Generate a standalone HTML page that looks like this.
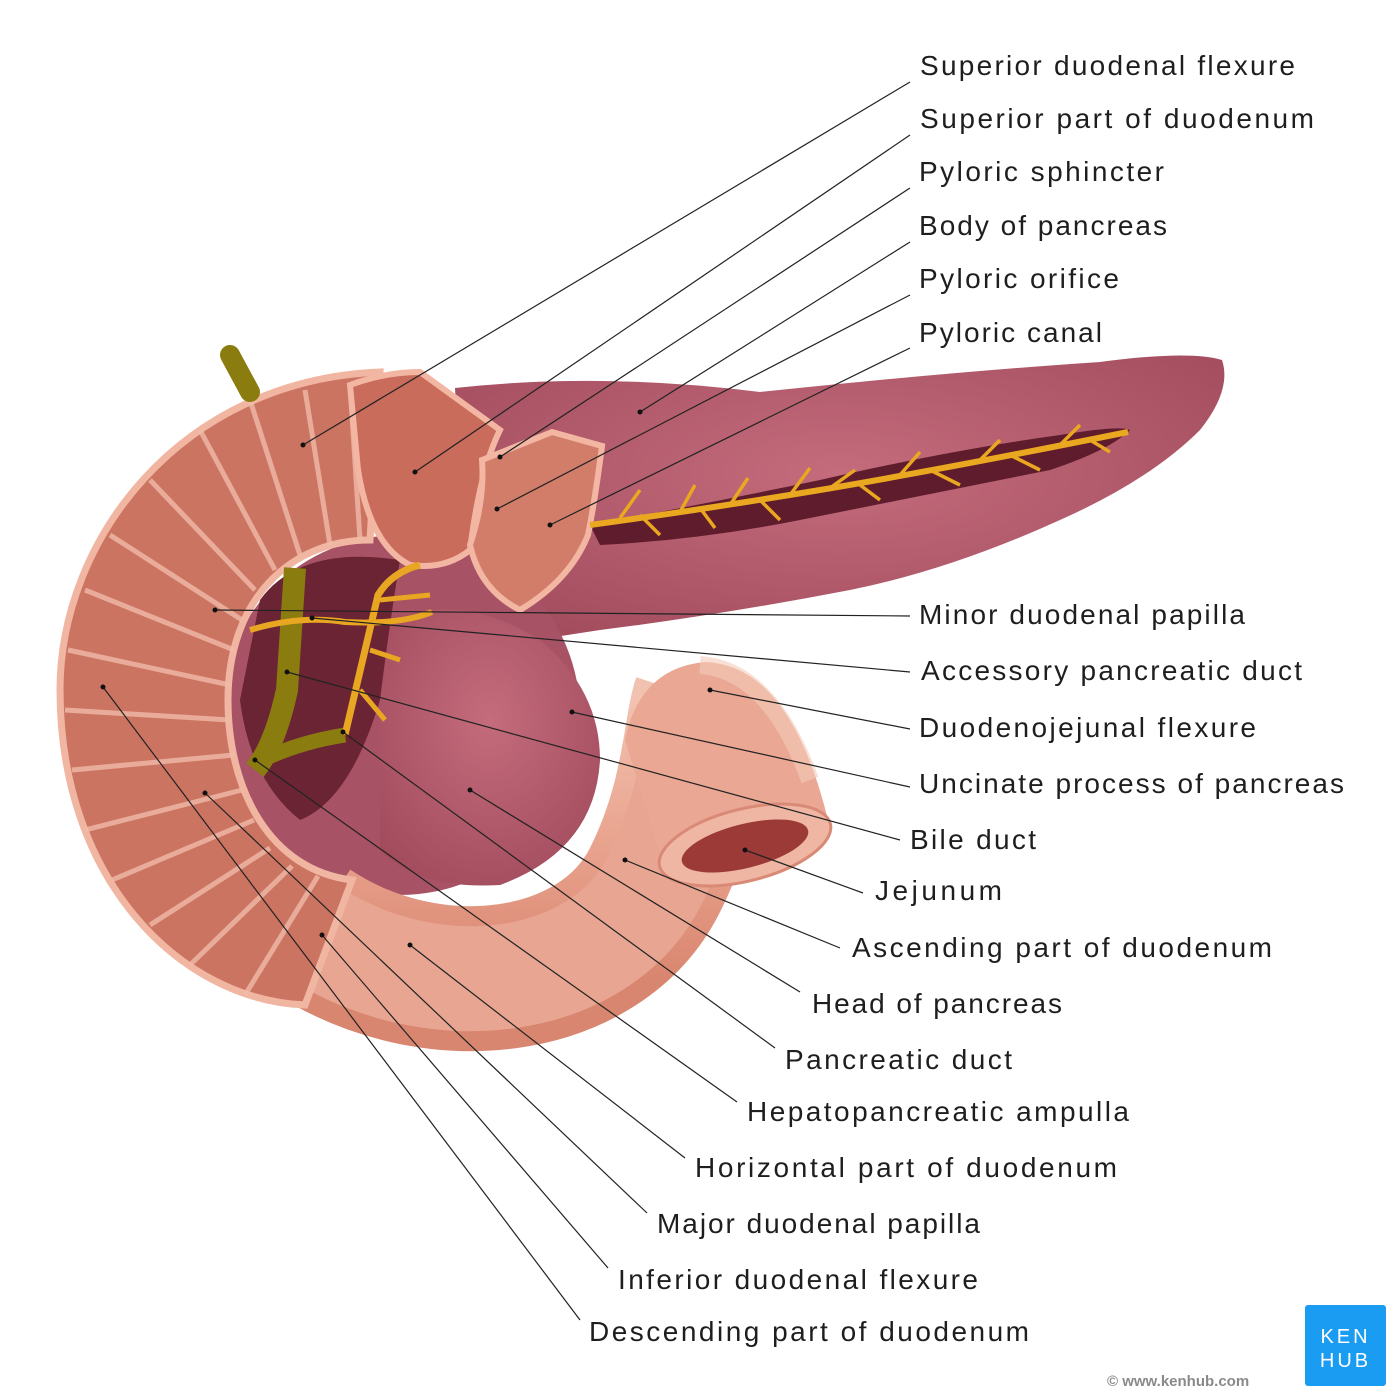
<!DOCTYPE html>
<html><head><meta charset="utf-8"><style>
html,body{margin:0;padding:0;background:#fff;}
svg{display:block;}
text.l{font-family:"Liberation Sans","DejaVu Sans",sans-serif;font-size:28px;fill:#1e1e1e;}
</style></head><body>
<svg width="1400" height="1400" viewBox="0 0 1400 1400" xmlns="http://www.w3.org/2000/svg">
<rect width="1400" height="1400" fill="#fff"/>
<defs>
<linearGradient id="tube" x1="0" y1="0" x2="0" y2="1"><stop offset="0" stop-color="#f2c2b0"/><stop offset="0.5" stop-color="#e9a48f"/><stop offset="1" stop-color="#d98670"/></linearGradient>
<radialGradient id="panc" cx="0.5" cy="0.4" r="0.7"><stop offset="0" stop-color="#c46c7c"/><stop offset="1" stop-color="#a04a5c"/></radialGradient>
</defs>
<!-- pancreas body -->
<path d="M455 388 Q600 372 760 392 Q950 372 1100 362 Q1190 350 1222 360 Q1232 390 1200 430 Q1150 480 1060 520 Q950 570 850 590 Q720 615 600 630 L470 650 Z" fill="url(#panc)"/>
<path d="M590 525 Q700 505 820 480 Q950 450 1060 435 Q1120 425 1130 430 Q1110 450 1050 470 Q900 500 800 520 Q700 540 600 545 Z" fill="#5e1c2c"/>
<!-- inner fill -->
<ellipse cx="400" cy="715" rx="180" ry="180" fill="#a85266"/>
<!-- head -->
<path d="M380 620 Q460 590 540 640 Q600 690 600 760 Q595 850 500 885 Q420 890 380 850 Z" fill="url(#panc)"/>
<!-- dark lumen behind -->
<path d="M260 600 Q300 545 400 560 Q390 620 380 700 Q350 800 300 820 Q250 780 240 700 Z" fill="#6a2434"/>
<!-- horizontal / ascending tube -->
<path d="M310 930 C430 1010 600 990 655 880 C695 800 695 730 705 700" fill="none" stroke="url(#tube)" stroke-width="145"/>
<path d="M310 930 C430 1010 600 990 655 880 C695 800 695 730 705 700" fill="none" stroke="#e8a692" stroke-width="105"/>
<path d="M625 740 Q640 668 705 662 Q790 665 828 820 L665 870 Z" fill="#eaa793"/>
<path d="M700 665 Q770 670 810 780" fill="none" stroke="#f4cbbb" stroke-width="18" opacity="0.6"/>
<ellipse cx="745" cy="845" rx="88" ry="36" transform="rotate(-14 745 845)" fill="#efb6a3" stroke="#d98a76" stroke-width="3"/>
<ellipse cx="745" cy="846" rx="65" ry="22" transform="rotate(-14 745 846)" fill="#9c3a38"/>
<!-- C wall -->
<path d="M380 372 C180 380 60 540 60 690 C60 880 180 1000 305 1005 L352 880 C270 870 228 790 228 700 C228 600 290 540 370 540 Z" fill="#cc7462" stroke="#f1b6a2" stroke-width="7"/>
<g stroke="#f2bba8" stroke-width="5" opacity="0.8" fill="none">
<path d="M330 545 L305 390"/><path d="M300 555 L250 400"/><path d="M275 570 L200 430"/><path d="M255 590 L150 480"/>
<path d="M242 620 L110 535"/><path d="M234 650 L85 590"/><path d="M230 685 L68 650"/><path d="M230 720 L65 710"/>
<path d="M234 755 L72 770"/><path d="M242 790 L85 830"/><path d="M254 820 L112 880"/><path d="M270 848 L150 925"/>
<path d="M292 866 L190 965"/><path d="M318 876 L245 995"/><path d="M360 540 L350 385"/>
</g>
<!-- superior part -->
<path d="M350 385 Q385 372 420 372 L500 430 Q480 470 470 550 Q445 570 410 565 Q370 545 358 470 Z" fill="#c96c5b" stroke="#f2b6a3" stroke-width="6"/>
<path d="M482 460 L552 432 L602 446 Q595 500 588 535 Q570 580 520 610 Q480 590 470 545 Q485 500 482 460 Z" fill="#d27d69" stroke="#f2b6a3" stroke-width="6"/>
<!-- ducts -->
<path d="M230 355 L250 392" stroke="#8b7c10" stroke-width="20" stroke-linecap="round"/>
<path d="M295 568 L287 690 Q275 745 255 770" fill="none" stroke="#8b7c10" stroke-width="22"/>
<path d="M262 760 Q300 742 345 735" fill="none" stroke="#8b7c10" stroke-width="15"/>
<path d="M345 735 Q365 650 378 595 Q392 572 420 565" fill="none" stroke="#e8a622" stroke-width="7"/>
<path d="M250 630 Q300 615 345 622 Q400 625 432 612" fill="none" stroke="#e8a622" stroke-width="6"/>
<path d="M380 600 L430 595 M370 650 L400 660 M360 690 L385 720" stroke="#e8a622" stroke-width="5"/>
<path d="M590 525 Q700 510 820 490 Q950 468 1128 432" fill="none" stroke="#eaa720" stroke-width="6"/>
<g stroke="#eaa720" stroke-width="3.5" fill="none">
<path d="M620 518 L640 490 M640 515 L660 535 M680 512 L695 485 M700 508 L715 528 M730 505 L748 478 M760 500 L780 520 M790 495 L810 468 M830 488 L855 470 M860 485 L880 500 M900 475 L920 452 M930 470 L960 485 M980 460 L1000 440 M1010 455 L1040 470 M1060 445 L1080 425 M1090 440 L1110 452"/>
</g>
<!-- leader lines -->
<g stroke="#222" stroke-width="1.2" fill="none">
<line x1="303" y1="445" x2="910" y2="82"/>
<line x1="415" y1="472" x2="910" y2="135"/>
<line x1="500" y1="457" x2="910" y2="188"/>
<line x1="640" y1="412" x2="910" y2="242"/>
<line x1="497" y1="509" x2="910" y2="295"/>
<line x1="550" y1="525" x2="910" y2="348"/>
<line x1="215" y1="610" x2="910" y2="616"/>
<line x1="312" y1="618" x2="910" y2="672"/>
<line x1="710" y1="690" x2="910" y2="729"/>
<line x1="572" y1="712" x2="910" y2="787"/>
<line x1="287" y1="672" x2="900" y2="840"/>
<line x1="745" y1="850" x2="863" y2="893"/>
<line x1="625" y1="860" x2="840" y2="948"/>
<line x1="470" y1="790" x2="800" y2="992"/>
<line x1="343" y1="732" x2="775" y2="1048"/>
<line x1="255" y1="760" x2="737" y2="1102"/>
<line x1="410" y1="945" x2="685" y2="1158"/>
<line x1="205" y1="793" x2="647" y2="1213"/>
<line x1="322" y1="935" x2="608" y2="1268"/>
<line x1="103" y1="687" x2="580" y2="1320"/>
</g>
<g fill="#111">
<circle cx="303" cy="445" r="2.5"/><circle cx="415" cy="472" r="2.5"/><circle cx="500" cy="457" r="2.5"/><circle cx="640" cy="412" r="2.5"/><circle cx="497" cy="509" r="2.5"/><circle cx="550" cy="525" r="2.5"/><circle cx="215" cy="610" r="2.5"/><circle cx="312" cy="618" r="2.5"/><circle cx="710" cy="690" r="2.5"/><circle cx="572" cy="712" r="2.5"/><circle cx="287" cy="672" r="2.5"/><circle cx="745" cy="850" r="2.5"/><circle cx="625" cy="860" r="2.5"/><circle cx="470" cy="790" r="2.5"/><circle cx="343" cy="732" r="2.5"/><circle cx="255" cy="760" r="2.5"/><circle cx="410" cy="945" r="2.5"/><circle cx="205" cy="793" r="2.5"/><circle cx="322" cy="935" r="2.5"/><circle cx="103" cy="687" r="2.5"/>
</g>
<!-- labels -->
<text class="l" x="920" y="75" textLength="375">Superior duodenal flexure</text>
<text class="l" x="920" y="128" textLength="394">Superior part of duodenum</text>
<text class="l" x="919" y="181" textLength="245">Pyloric sphincter</text>
<text class="l" x="919" y="235" textLength="248">Body of pancreas</text>
<text class="l" x="919" y="288" textLength="200">Pyloric orifice</text>
<text class="l" x="919" y="342" textLength="183">Pyloric canal</text>
<text class="l" x="919" y="624" textLength="326">Minor duodenal papilla</text>
<text class="l" x="921" y="680" textLength="381">Accessory pancreatic duct</text>
<text class="l" x="919" y="737" textLength="337">Duodenojejunal flexure</text>
<text class="l" x="919" y="793" textLength="425">Uncinate process of pancreas</text>
<text class="l" x="910" y="849" textLength="126">Bile duct</text>
<text class="l" x="875" y="900" textLength="127">Jejunum</text>
<text class="l" x="852" y="957" textLength="420">Ascending part of duodenum</text>
<text class="l" x="812" y="1013" textLength="250">Head of pancreas</text>
<text class="l" x="785" y="1069" textLength="227">Pancreatic duct</text>
<text class="l" x="747" y="1121" textLength="382">Hepatopancreatic ampulla</text>
<text class="l" x="695" y="1177" textLength="422">Horizontal part of duodenum</text>
<text class="l" x="657" y="1233" textLength="323">Major duodenal papilla</text>
<text class="l" x="618" y="1289" textLength="360">Inferior duodenal flexure</text>
<text class="l" x="589" y="1341" textLength="440">Descending part of duodenum</text>
<!-- logo -->
<rect x="1305" y="1305" width="81" height="81" rx="3" fill="#1a9cf2"/>
<text x="1345.5" y="1343" text-anchor="middle" font-family="Liberation Sans,sans-serif" font-size="20" fill="#fff" letter-spacing="3">KEN</text>
<text x="1345.5" y="1367" text-anchor="middle" font-family="Liberation Sans,sans-serif" font-size="20" fill="#fff" letter-spacing="3">HUB</text>
<text x="1107" y="1386" font-family="Liberation Sans,sans-serif" font-size="15" font-weight="bold" fill="#8a8a8a">© www.kenhub.com</text>
</svg>
</body></html>
